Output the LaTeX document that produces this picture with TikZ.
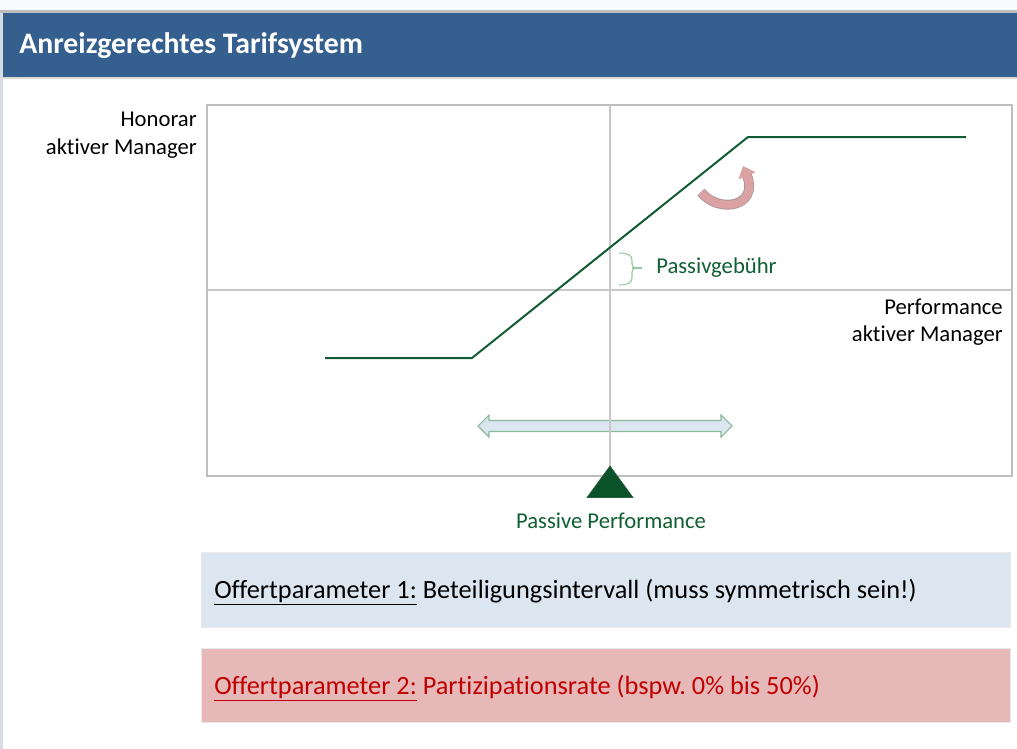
\documentclass[tikz,border=0pt]{standalone}
\usepackage{fontspec}
\setmainfont[Ligatures=NoCommon]{Carlito}
\usetikzlibrary{arrows.meta}
\frenchspacing
\definecolor{hdr}{RGB}{53,95,142}
\definecolor{topbg}{RGB}{248,250,254}
\definecolor{edgegray}{RGB}{190,190,190}
\definecolor{leftgray}{RGB}{214,219,228}
\definecolor{axisgray}{RGB}{200,200,200}
\definecolor{curvegreen}{RGB}{18,92,52}
\definecolor{textgreen}{RGB}{16,96,50}
\definecolor{trigreen}{RGB}{10,82,42}
\definecolor{bracegreen}{RGB}{150,200,165}
\definecolor{dblfill}{RGB}{220,230,240}
\definecolor{dbledge}{RGB}{140,185,155}
\definecolor{box1fill}{RGB}{220,230,241}
\definecolor{box2fill}{RGB}{230,184,183}
\definecolor{boxedge}{RGB}{232,232,232}
\definecolor{offred}{RGB}{192,0,0}
\definecolor{pinkarrow}{RGB}{218,162,162}
\definecolor{pinkedge}{RGB}{175,150,150}
\tikzset{
  lbl/.style={inner sep=0pt, font=\fontsize{17}{20}\selectfont},
  boxtxt/.style={inner sep=0pt, anchor=base west, font=\fontsize{19.75}{23}\selectfont},
  axisline/.style={draw=axisgray, line width=1.1pt},
  curve/.style={draw=curvegreen, line width=1.5pt, line join=round}
}
\begin{document}
\begin{tikzpicture}[x=0.75pt,y=-0.75pt]
\useasboundingbox (0,0) rectangle (1017,749);
% background and frame
\fill[white] (0,0) rectangle (1017,749);
\fill[topbg] (0,0) rectangle (1017,10);
\fill[edgegray] (0,10) rectangle (1017,13);
\fill[leftgray] (0,13) rectangle (3,749);
\fill[hdr] (3,13) rectangle (1017,77);
\fill[edgegray!60] (3,77) rectangle (1017,79);
\node[anchor=base west, inner sep=0pt, text=white, font=\fontsize{22.3}{26}\selectfont\bfseries] (title) at (19,54) {Anreizgerechtes Tarifsystem};

% chart frame
\draw[draw=edgegray, line width=1.1pt] (207,105) rectangle (1012,476);
\coordinate (xl) at (207,290);
\coordinate (xr) at (1012,290);
\coordinate (yt) at (610,105);
\coordinate (yb) at (610,476);

% double arrow (behind the axis)
\filldraw[fill=dblfill, draw=dbledge, line width=0.8pt, line join=miter]
  (478,426) -- (489,415) -- (489,420.5) -- (721,420.5) -- (721,415) -- (732,426)
  -- (721,437) -- (721,431.5) -- (489,431.5) -- (489,437) -- cycle;

\draw[axisline] (xl) -- (xr);
\draw[axisline] (yt) -- (yb);

% fee curve
\coordinate (c1) at (325,358);
\coordinate (c2) at (472,358);
\coordinate (c3) at (748,137);
\coordinate (c4) at (966,137);
\draw[curve] (c1) -- (c2) -- (c3) -- (c4);

% brace
\draw[draw=bracegreen, line width=0.8pt]
  (619,253) .. controls (627,253) and (632,255) .. (632,260) -- (632,264)
  .. controls (632,267) and (634,268) .. (638,268)
  .. controls (634,268) and (632,269) .. (632,272) -- (632,278)
  .. controls (632,283) and (627,285) .. (619,285);
\draw[draw=bracegreen, line width=0.8pt] (632,268) -- (642,268);
\node[lbl, anchor=base west, text=textgreen] (fee) at (656,273) {Passivgebühr};

% curved arrow
\draw[draw=pinkedge, line width=7.4pt, shorten >=7pt] (701,192) .. controls (718,214) and (760,207) .. (743,166);
\draw[draw=pinkarrow, line width=6pt, -{Triangle[length=8pt,width=13.5pt]}] (701,192) .. controls (718,214) and (760,207) .. (743,166);

% axis labels
\node[lbl, anchor=base east] (hon1) at (197,127) {Honorar};
\node[lbl, anchor=base east] (hon2) at (197,154) {aktiver Manager};
\node[lbl, anchor=base east] (perf1) at (1003,314) {Performance};
\node[lbl, anchor=base east] (perf2) at (1003,341) {aktiver Manager};

% passive performance marker
\filldraw[fill=trigreen, draw=trigreen!70!gray, line width=0.5pt] (610,466) -- (633,497.5) -- (587,497.5) -- cycle;
\node[lbl, anchor=base, text=textgreen] (pp) at (611,528) {Passive Performance};

% offer parameter boxes
\filldraw[fill=box1fill, draw=boxedge, line width=0.6pt] (201,552) rectangle (1010,627);
\node[boxtxt] (off1) at (214,598) {\underline{Offertparameter 1:} Beteiligungsintervall (muss symmetrisch sein!)};
\filldraw[fill=box2fill, draw=boxedge, line width=0.6pt] (201,648) rectangle (1010,722);
\node[boxtxt, text=offred] (off2) at (214,694) {\underline{Offertparameter 2:} Partizipationsrate (bspw. 0\% bis 50\%)};
\end{tikzpicture}
\end{document}
